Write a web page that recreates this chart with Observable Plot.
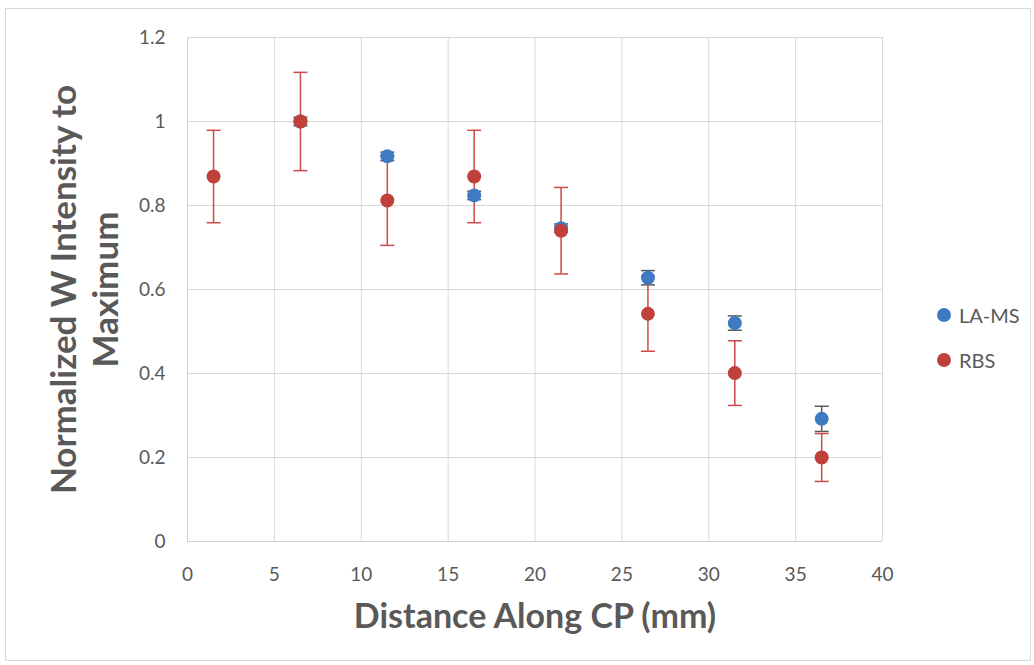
<!DOCTYPE html>
<html><head><meta charset="utf-8">
<script src="https://cdn.jsdelivr.net/npm/d3@7"></script>
<script src="https://cdn.jsdelivr.net/npm/@observablehq/plot@0.6"></script>
<style>
body{margin:0;background:#fff;font-family:Lato,"Open Sans",sans-serif;}
#wrap{position:relative;width:1034px;height:665px;}
#frame{position:absolute;left:5px;top:8px;width:1024px;height:651px;border:1px solid #d9d9d9;pointer-events:none;}
#legend{position:absolute;left:937px;top:292px;font-size:20px;color:#595959;}
#legend div{display:flex;align-items:center;height:45px;}
#legend span.dot{display:inline-block;width:14px;height:14px;border-radius:50%;margin-right:8px;}
</style></head>
<body><div id="wrap"><div id="frame"></div><div id="legend"></div></div>
<script>
const seriesNames = ["LA-MS", "RBS"];
const seriesColors = ["#3f7bc3", "#c0403c"];
const errColors = ["#595959", "#cc4a4a"];
const xTicks = [0, 5, 10, 15, 20, 25, 30, 35, 40];
const yTicks = [0, 0.2, 0.4, 0.6, 0.8, 1, 1.2];

const laX = [6.5, 11.5, 16.5, 21.5, 26.5, 31.5, 36.5];
const laY = [1.0, 0.917, 0.824, 0.746, 0.628, 0.520, 0.292];
const laErr = [0.01, 0.01, 0.01, 0.01, 0.017, 0.017, 0.03];

const rbsX = [1.5, 6.5, 11.5, 16.5, 21.5, 26.5, 31.5, 36.5];
const rbsY = [0.869, 1.0, 0.812, 0.869, 0.740, 0.542, 0.401, 0.200];
const rbsErr = [0.11, 0.117, 0.107, 0.11, 0.103, 0.089, 0.077, 0.057];

const la = laX.map((x, i) => ({x, y: laY[i], e: laErr[i], s: seriesNames[0]}));
const rbs = rbsX.map((x, i) => ({x, y: rbsY[i], e: rbsErr[i], s: seriesNames[1]}));

const cap = {draw(ctx, size) { ctx.moveTo(-7, 0); ctx.lineTo(7, 0); }};

function errMarks(data, color) {
  return [
    Plot.ruleX(data, {x: "x", y1: d => d.y - d.e, y2: d => d.y + d.e, stroke: color, strokeWidth: 1.5}),
    Plot.dot(data, {x: "x", y: d => d.y + d.e, symbol: cap, stroke: color, strokeWidth: 1.5, fill: "none"}),
    Plot.dot(data, {x: "x", y: d => d.y - d.e, symbol: cap, stroke: color, strokeWidth: 1.5, fill: "none"})
  ];
}

const fmt = d => String(+d.toFixed(1));

const chart = Plot.plot({
  width: 1034,
  height: 665,
  marginLeft: 187,
  marginRight: 152,
  marginTop: 37,
  marginBottom: 124,
  style: {fontFamily: "Lato, 'Open Sans', sans-serif", fontSize: "19px", color: "#595959", background: "transparent"},
  x: {domain: [0, 40], label: null},
  y: {domain: [0, 1.2], label: null},
  marks: [
    Plot.gridX(xTicks, {stroke: "#d9d9d9", strokeOpacity: 1, strokeWidth: 1}),
    Plot.gridY(yTicks, {stroke: "#d9d9d9", strokeOpacity: 1, strokeWidth: 1}),
    Plot.ruleY([0], {stroke: "#d0d0d0"}),
    Plot.ruleX([0], {stroke: "#d0d0d0"}),
    Plot.axisX({ticks: xTicks, tickSize: 0, tickPadding: 26, fontSize: 19, fill: "#595959", label: null}),
    Plot.axisY({ticks: yTicks, tickSize: 0, tickPadding: 22, fontSize: 19, fill: "#595959", tickFormat: fmt, label: null}),
    ...errMarks(la, errColors[0]),
    ...errMarks(rbs, errColors[1]),
    Plot.dot(la, {x: "x", y: "y", r: 7, fill: seriesColors[0]}),
    Plot.dot(rbs, {x: "x", y: "y", r: 7, fill: seriesColors[1]}),
    Plot.text(["Distance Along CP (mm)"], {frameAnchor: "bottom", dy: 86, fontSize: 34, fontWeight: "bold", fill: "#595959"}),
    Plot.text(["Normalized W Intensity to\nMaximum"], {frameAnchor: "left", textAnchor: "middle", dx: -104, rotate: -90, fontSize: 35, fontWeight: "bold", fill: "#595959", lineHeight: 1.2})
  ]
});
document.getElementById("wrap").prepend(chart);

const legend = document.getElementById("legend");
seriesNames.forEach((n, i) => {
  const row = document.createElement("div");
  row.innerHTML = `<span class="dot" style="background:${seriesColors[i]}"></span>${n}`;
  legend.appendChild(row);
});
</script>
</body></html>
